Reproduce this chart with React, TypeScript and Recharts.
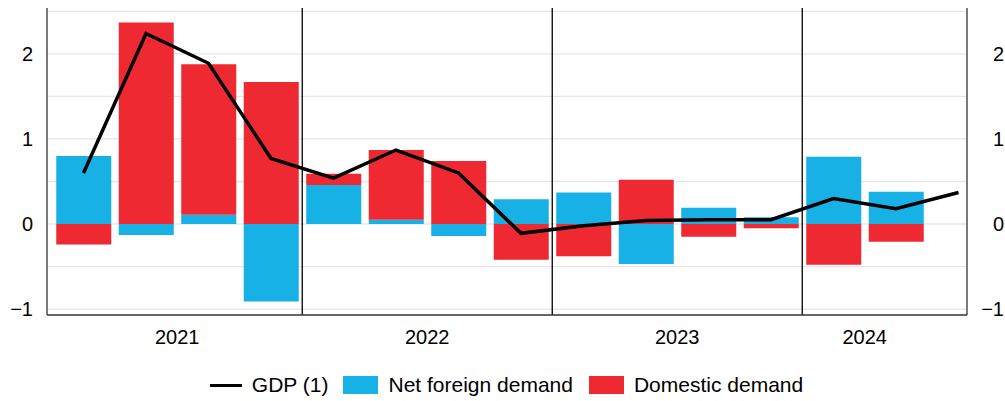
import React from 'react';
import {
  ComposedChart,
  Bar,
  Line,
  XAxis,
  YAxis,
  CartesianGrid,
  ReferenceLine,
  Legend,
} from 'recharts';

const years = ['2021', '2021', '2021', '2021', '2022', '2022', '2022', '2022', '2023', '2023', '2023', '2023', '2024', '2024', '2024'];
const quarters = ['Q1', 'Q2', 'Q3', 'Q4', 'Q1', 'Q2', 'Q3', 'Q4', 'Q1', 'Q2', 'Q3', 'Q4', 'Q1', 'Q2', 'Q3'];
const gdp = [0.6, 2.24, 1.89, 0.77, 0.54, 0.87, 0.6, -0.11, -0.02, 0.04, 0.05, 0.05, 0.3, 0.18, 0.37];
const netForeign = [0.8, -0.13, 0.11, -0.91, 0.46, 0.05, -0.14, 0.29, 0.37, -0.47, 0.19, 0.08, 0.79, 0.38, null];
const domestic = [-0.24, 2.37, 1.77, 1.67, 0.13, 0.82, 0.74, -0.42, -0.38, 0.52, -0.15, -0.05, -0.48, -0.21, null];
const yTicks = [-1, 0, 1, 2];
const gridValues = [-1, -0.5, 0, 0.5, 1, 1.5, 2, 2.5];

const BLUE = '#17b1e6';
const RED = '#ee2931';
const FONT = '"Liberation Sans", Arial, sans-serif';

const data = quarters.map((q, i) => ({
  x: i,
  label: `${q} ${years[i]}`,
  gdp: gdp[i],
  netForeign: netForeign[i],
  domestic: domestic[i],
}));

// year label sits under the middle of that year's bars
const yearList = Array.from(new Set(years));
const yearTicks = yearList.map((y) => {
  const idx = data.filter((d, i) => years[i] === y && d.netForeign !== null).map((d) => d.x);
  return idx.reduce((a, b) => a + b, 0) / idx.length;
});
const yearOf = (v: number) => yearList[yearTicks.indexOf(v)] ?? '';

// separators between years
const separators = yearList.slice(1).map((y) => years.indexOf(y) - 0.5);

const fmt = (v: number) => (v < 0 ? `\u2212${Math.abs(v)}` : `${v}`);

const RightTick = ({ x, y, payload }: any) => (
  <text x={x} y={y} dy="0.355em" textAnchor="end" fill="#000" fontSize={20} fontFamily={FONT}>
    {fmt(payload.value)}
  </text>
);

const LegendContent = () => (
  <div
    style={{
      display: 'flex',
      justifyContent: 'center',
      alignItems: 'center',
      height: 40,
      paddingTop: 8,
      paddingLeft: 8,
      boxSizing: 'border-box',
      fontFamily: FONT,
      fontSize: 21,
      color: '#000',
    }}
  >
    <span style={{ width: 32, height: 3, background: '#000', marginRight: 10 }} />
    <span style={{ marginRight: 15 }}>GDP (1)</span>
    <span style={{ width: 35, height: 18, background: BLUE, marginRight: 10 }} />
    <span style={{ marginRight: 16 }}>Net foreign demand</span>
    <span style={{ width: 35, height: 18, background: RED, marginRight: 10 }} />
    <span>Domestic demand</span>
  </div>
);

const App: React.FC = () => {
  return (
    <div style={{ position: 'absolute', left: 0, top: 0, width: 1005, height: 401, background: '#fff' }}>
      <ComposedChart
        width={1005}
        height={401}
        data={data}
        stackOffset="sign"
        margin={{ top: 8, right: 0, left: 0, bottom: 0 }}
      >
        <CartesianGrid vertical={false} stroke="#e6e6e6" strokeWidth={1.3} horizontalValues={gridValues} />
        <XAxis
          dataKey="x"
          type="number"
          domain={[-0.584, 14.136]}
          allowDataOverflow
          ticks={yearTicks}
          interval={0}
          tickFormatter={yearOf}
          tickSize={0}
          tickMargin={15}
          tickLine={false}
          height={46}
          axisLine={{ stroke: '#333', strokeWidth: 1.3 }}
          tick={{ fill: '#000', fontSize: 20, fontFamily: FONT }}
        />
        <XAxis
          xAxisId="top"
          dataKey="x"
          type="number"
          orientation="top"
          domain={[-0.584, 14.136]}
          allowDataOverflow
          height={0}
          tick={false}
          tickLine={false}
          axisLine={{ stroke: '#333', strokeWidth: 1.3 }}
        />
        <YAxis
          domain={[-1.07, 2.54]}
          allowDataOverflow
          ticks={yTicks}
          interval={0}
          width={47}
          tickSize={0}
          tickMargin={14}
          tickLine={false}
          tickFormatter={fmt}
          axisLine={{ stroke: '#333', strokeWidth: 1.3 }}
          tick={{ fill: '#000', fontSize: 20, fontFamily: FONT }}
        />
        <YAxis
          yAxisId="right"
          orientation="right"
          domain={[-1.07, 2.54]}
          allowDataOverflow
          ticks={yTicks}
          interval={0}
          width={38}
          tickSize={0}
          tickMargin={37}
          tickLine={false}
          axisLine={{ stroke: '#333', strokeWidth: 1.3 }}
          tick={<RightTick />}
        />
        {separators.map((s) => (
          <ReferenceLine key={s} x={s} stroke="#000" strokeWidth={1.3} />
        ))}
        <Bar dataKey="netForeign" name="Net foreign demand" stackId="a" fill={BLUE} barSize={55} isAnimationActive={false} />
        <Bar dataKey="domestic" name="Domestic demand" stackId="a" fill={RED} barSize={55} isAnimationActive={false} />
        <Line
          dataKey="gdp"
          name="GDP (1)"
          type="linear"
          stroke="#000"
          strokeWidth={3.5}
          dot={false}
          activeDot={false}
          isAnimationActive={false}
        />
        <Legend verticalAlign="bottom" height={40} content={<LegendContent />} />
      </ComposedChart>
    </div>
  );
};

export default App;
